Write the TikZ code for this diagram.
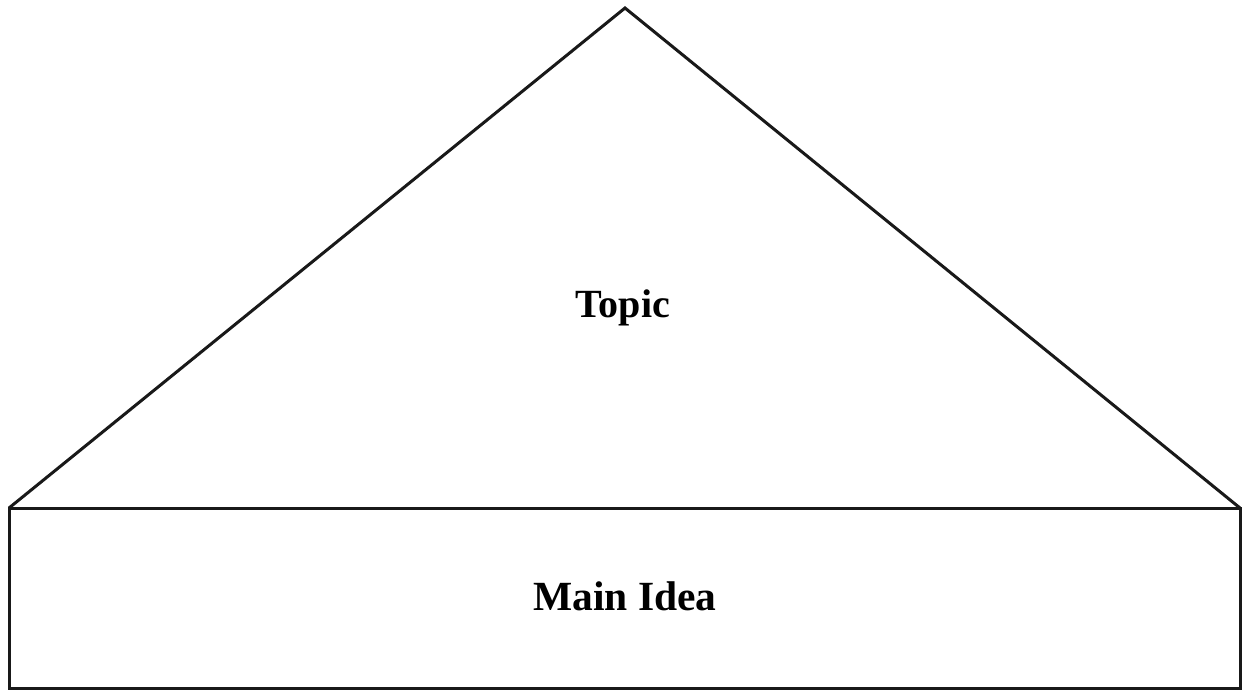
\documentclass[tikz,border=0pt]{standalone}
\usepackage{fontspec}
\setmainfont{Liberation Serif}
\begin{document}
\begin{tikzpicture}[x=1pt,y=-1pt,
  outline/.style={draw=black!90,line width=3pt,line join=miter},
  label/.style={inner sep=0pt,anchor=base,font=\bfseries}]
\useasboundingbox (0,0) rectangle (1249,691);
\coordinate (apex) at (625,8);
\coordinate (bl) at (9,508);
\coordinate (br) at (1240,508);
\coordinate (fl) at (9,688);
\coordinate (fr) at (1240,688);
\draw[outline] (bl) -- (apex) -- (br);
\draw[outline] (bl) rectangle (fr);
\node[label,font=\fontsize{40}{48}\selectfont\bfseries] (topic) at (623,317) {Topic};
\node[label,font=\fontsize{41.5}{50}\selectfont\bfseries] (main) at (625,610) {Main Idea};
\end{tikzpicture}
\end{document}
